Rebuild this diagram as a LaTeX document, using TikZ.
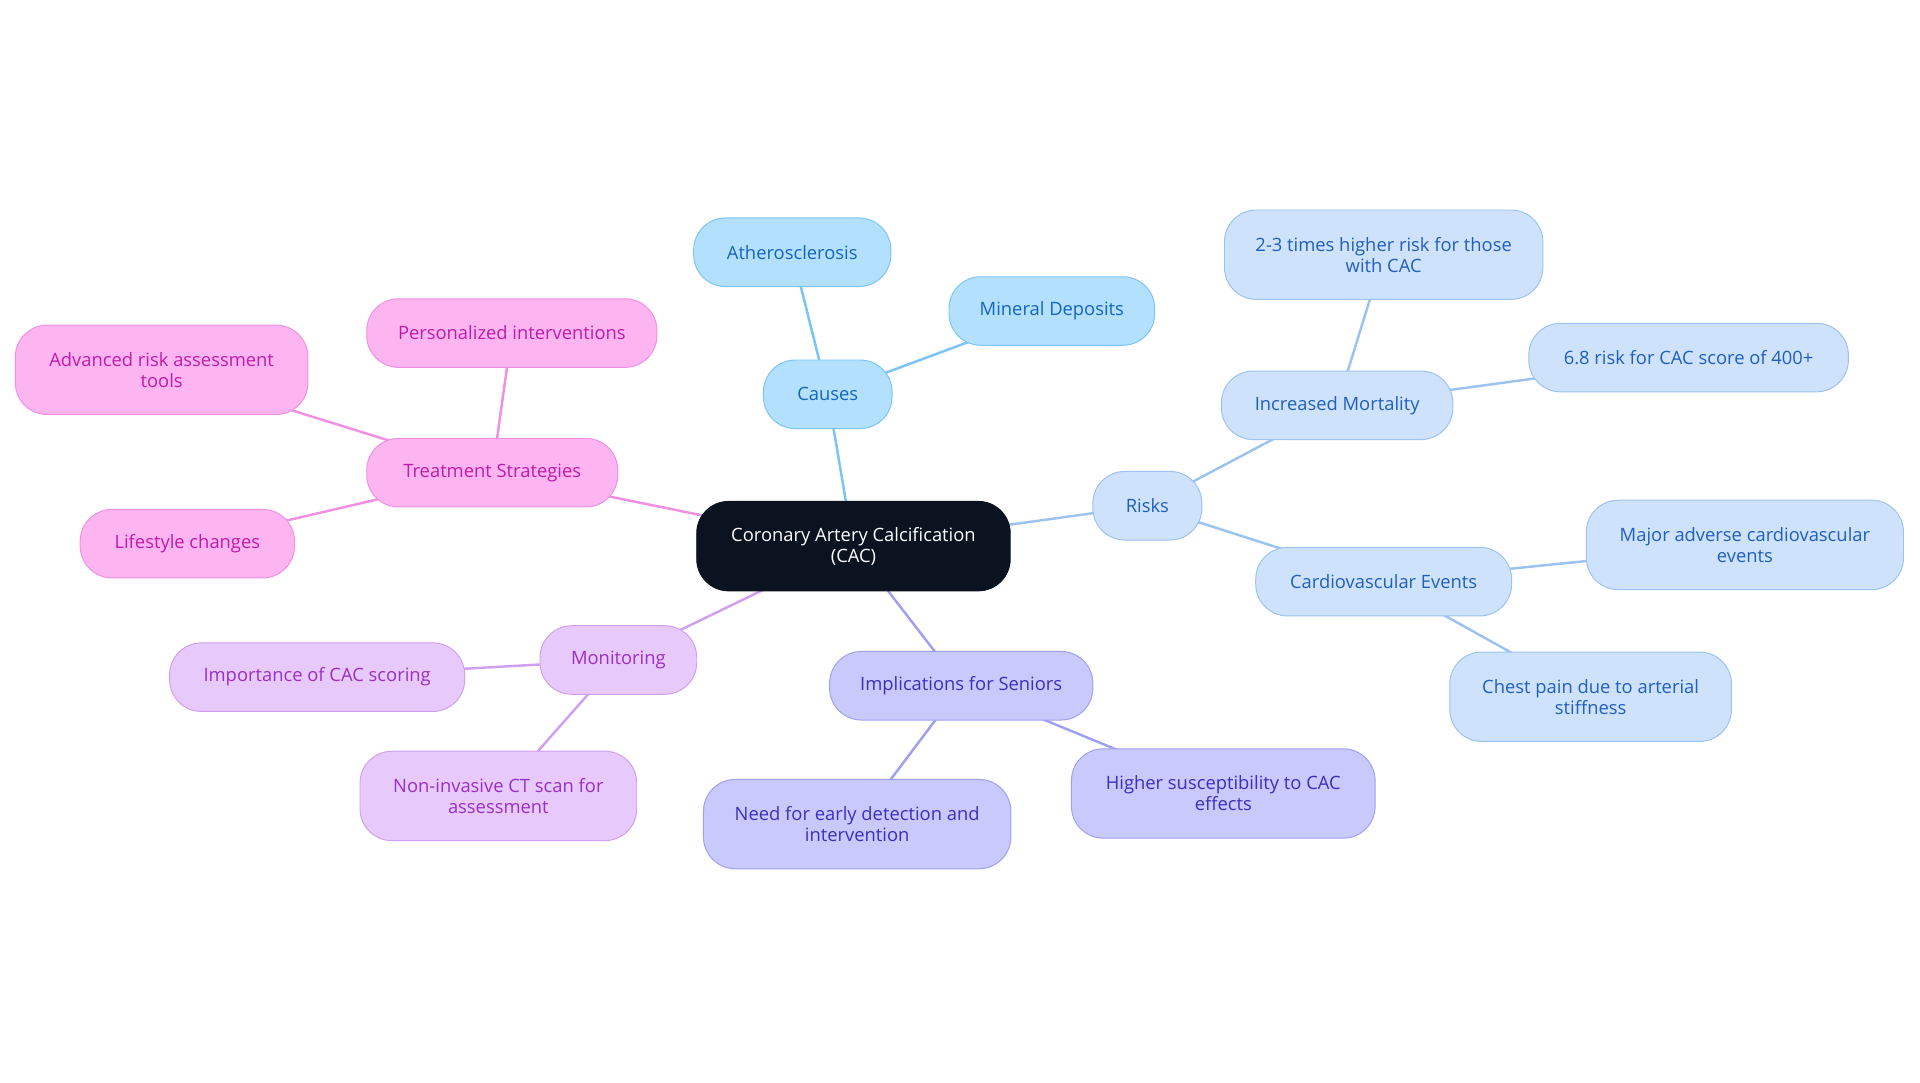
\documentclass[tikz,border=0pt]{standalone}
\usepackage{fontspec}
\setmainfont{Open Sans}
\usetikzlibrary{backgrounds}
\definecolor{cF}{HTML}{B3E0FD}\definecolor{cS}{HTML}{7CC4F5}\definecolor{cT}{HTML}{1565C0}
\definecolor{rF}{HTML}{CFE2FB}\definecolor{rS}{HTML}{9CC2F0}\definecolor{rT}{HTML}{1F5FBF}
\definecolor{iF}{HTML}{C9C9FB}\definecolor{iS}{HTML}{A0A0F0}\definecolor{iT}{HTML}{3B2FC0}
\definecolor{mF}{HTML}{E8C9FB}\definecolor{mS}{HTML}{D09FF0}\definecolor{mT}{HTML}{9A2FC6}
\definecolor{tF}{HTML}{FDB5F2}\definecolor{tS}{HTML}{F090E0}\definecolor{tT}{HTML}{C21AA8}
\definecolor{root}{HTML}{0B1220}
\tikzset{x=1pt,y=-1pt,
 bx/.style={rounded corners=26pt,minimum height=56pt,align=center,inner sep=0pt,font=\fontsize{15}{17}\selectfont,line width=0.8pt},
 tall/.style={minimum height=73pt},
 cau/.style={bx,fill=cF,draw=cS,text=cT},
 rsk/.style={bx,fill=rF,draw=rS,text=rT},
 imp/.style={bx,fill=iF,draw=iS,text=iT},
 mon/.style={bx,fill=mF,draw=mS,text=mT},
 trt/.style={bx,fill=tF,draw=tS,text=tT},
 e/.style={line width=2pt}}
\begin{document}
\begin{tikzpicture}
\useasboundingbox (0,0) rectangle (1568,884);
\node[bx,tall,fill=root,draw=root,text=white,minimum width=256pt] (c) at (697,446) {Coronary Artery Calcification\\(CAC)};
\node[cau,minimum width=105pt] (ca) at (676,322) {Causes};
\node[cau,minimum width=161pt] (ath) at (647,206) {Atherosclerosis};
\node[cau,minimum width=168pt] (min) at (859,254) {Mineral Deposits};
\node[rsk,minimum width=89pt] (r) at (937,413) {Risks};
\node[rsk,minimum width=189pt] (im) at (1092,331) {Increased Mortality};
\node[rsk,tall,minimum width=260pt] (r23) at (1130,208) {2-3 times higher risk for those\\with CAC};
\node[rsk,minimum width=261pt] (r68) at (1379,292) {6.8 risk for CAC score of 400+};
\node[rsk,minimum width=209pt] (cv) at (1130,475) {Cardiovascular Events};
\node[rsk,tall,minimum width=259pt] (mace) at (1425,445) {Major adverse cardiovascular\\events};
\node[rsk,tall,minimum width=230pt] (cp) at (1299,569) {Chest pain due to arterial\\stiffness};
\node[imp,minimum width=215pt] (is) at (785,560) {Implications for Seniors};
\node[imp,tall,minimum width=251pt] (nd) at (700,673) {Need for early detection and\\intervention};
\node[imp,tall,minimum width=248pt] (hs) at (999,648) {Higher susceptibility to CAC\\effects};
\node[mon,minimum width=128pt] (mo) at (505,539) {Monitoring};
\node[mon,minimum width=241pt] (ic) at (259,553) {Importance of CAC scoring};
\node[mon,tall,minimum width=226pt] (ni) at (407,650) {Non-invasive CT scan for\\assessment};
\node[trt,minimum width=205pt] (ts) at (402,386) {Treatment Strategies};
\node[trt,minimum width=237pt] (pi) at (418,272) {Personalized interventions};
\node[trt,tall,minimum width=239pt] (ar) at (132,302) {Advanced risk assessment\\tools};
\node[trt,minimum width=175pt] (ls) at (153,444) {Lifestyle changes};
\begin{scope}[on background layer]
\draw[e,draw=cS] (c.center)--(ca.center) (ca.center)--(ath.center) (ca.center)--(min.center);
\draw[e,draw=rS] (c.center)--(r.center) (r.center)--(im.center) (im.center)--(r23.center) (im.center)--(r68.center)
 (r.center)--(cv.center) (cv.center)--(mace.center) (cv.center)--(cp.center);
\draw[e,draw=iS] (c.center)--(is.center) (is.center)--(nd.center) (is.center)--(hs.center);
\draw[e,draw=mS] (c.center)--(mo.center) (mo.center)--(ic.center) (mo.center)--(ni.center);
\draw[e,draw=tS] (c.center)--(ts.center) (ts.center)--(pi.center) (ts.center)--(ar.center) (ts.center)--(ls.center);
\end{scope}
\end{tikzpicture}
\end{document}
